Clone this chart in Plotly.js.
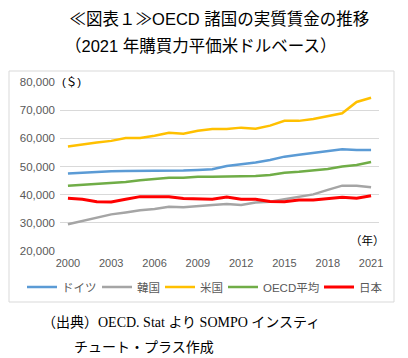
<!DOCTYPE html>
<html>
<head>
<meta charset="utf-8">
<script src="https://cdn.plot.ly/plotly-3.0.1.min.js"></script>
<style>html,body{margin:0;padding:0;background:#fff;}#chart{width:408px;height:358px;}</style>
</head>
<body>
<div id="chart"></div>
<script>
const years = [2000,2001,2002,2003,2004,2005,2006,2007,2008,2009,2010,2011,2012,2013,2014,2015,2016,2017,2018,2019,2020,2021];
const xTickLabels = ['2000','2003','2006','2009','2012','2015','2018','2021'];
const seriesNames = ['ドイツ','韓国','米国','OECD平均','日本'];
const germany = [47500,47800,48100,48300,48400,48400,48400,48500,48600,48800,49000,50200,50800,51400,52300,53500,54200,54800,55300,56100,55900,55900];
const korea   = [29500,30700,31800,33000,33700,34500,34900,35700,35500,36000,36300,36700,36300,37200,37500,38400,39300,40100,41700,43200,43200,42600];
const usa     = [57100,57900,58500,59100,60100,60100,60900,62000,61600,62700,63300,63300,63800,63400,64500,66200,66200,66900,67900,68900,72900,74400];
const oecd    = [43200,43500,43800,44100,44500,45100,45500,46000,46000,46400,46400,46400,46400,46600,47000,47800,48100,48700,49100,50000,50500,51600];
const japan   = [38700,38400,37500,37400,38400,39300,39300,39300,38600,38400,38400,39200,38400,38400,37600,37500,38100,38100,38700,39100,38700,39600];
const seriesValues = [germany, korea, usa, oecd, japan];
const seriesColors = ['#5B9BD5','#A5A5A5','#FFC000','#70AD47','#FF0000'];
const seriesWidths = [2.5,2.5,2.5,2.5,3];
const legendWidths = [30,18,18,51,23];

const traces = seriesNames.map((name,i)=>({
  type:'scatter', mode:'lines', name:name, x:years, y:seriesValues[i],
  line:{color:seriesColors[i], width:seriesWidths[i]}, legendwidth:legendWidths[i]
}));

const sans = 'Liberation Sans, Arial, "Noto Sans CJK JP", sans-serif';
const serif = 'Liberation Serif, "DejaVu Serif", "Noto Sans CJK JP", serif';

const layout = {
  width:408, height:358,
  margin:{l:60, r:29, t:82, b:107},
  paper_bgcolor:'#ffffff', plot_bgcolor:'#ffffff',
  showlegend:true,
  title:{text:'≪図表１≫OECD 諸国の実質賃金の推移', font:{family:sans, size:16.5, color:'#000', weight:'normal'},
         x:0.5, xanchor:'center', xref:'paper', y:1-19/358, yanchor:'middle', yref:'container'},
  xaxis:{range:[1999.45, 2021.55], tickmode:'array', tickvals:xTickLabels.map(Number), ticktext:xTickLabels,
         showgrid:false, zeroline:false, showline:false, ticks:'', ticklabelstandoff:4,
         tickfont:{family:sans, size:11, color:'#595959'}, fixedrange:true},
  yaxis:{range:[20000, 80000], dtick:10000, tickformat:',d', showgrid:true, gridcolor:'#d9d9d9', gridwidth:1,
         zeroline:false, showline:false, ticks:'', ticklabelstandoff:4,
         tickfont:{family:sans, size:11.5, color:'#595959'}, fixedrange:true},
  legend:{orientation:'h', x:(22-60)/319, xanchor:'left', y:(251-287)/169, yanchor:'middle',
          font:{family:sans, size:11.5, color:'#595959'}, itemwidth:30, bgcolor:'rgba(0,0,0,0)'},
  shapes:[{type:'rect', xref:'paper', yref:'paper', x0:(9-60)/319, x1:(394-60)/319, y0:(251-302)/169, y1:(251-71)/169,
           line:{color:'#d9d9d9', width:1}, fillcolor:'rgba(0,0,0,0)', layer:'below'}],
  annotations:[
    {text:'（2021 年購買力平価米ドルベース）', xref:'paper', yref:'paper', x:(200-60)/319, y:(251-46)/169,
     xanchor:'center', yanchor:'middle', showarrow:false, font:{family:sans, size:16.5, color:'#000'}},
    {text:'(＄)', xref:'paper', yref:'paper', x:0, y:1, xanchor:'left', yanchor:'middle', showarrow:false,
     bgcolor:'#ffffff', font:{family:sans, size:11.5, color:'#000'}},
    {text:'（年）', xref:'paper', yref:'paper', x:(367-60)/319, y:(251-240)/169, xanchor:'center', yanchor:'middle', showarrow:false,
     font:{family:sans, size:11.5, color:'#000'}},
    {text:'（出典）OECD. Stat より SOMPO インスティ', xref:'paper', yref:'paper', x:(40-60)/319, y:(251-322)/169,
     xanchor:'left', yanchor:'middle', showarrow:false, font:{family:serif, size:14, color:'#000'}},
    {text:'チュート・プラス作成', xref:'paper', yref:'paper', x:(72-60)/319, y:(251-347)/169,
     xanchor:'left', yanchor:'middle', showarrow:false, font:{family:serif, size:14, color:'#000'}}
  ]
};

Plotly.newPlot('chart', traces, layout, {staticPlot:true, displayModeBar:false});
</script>
</body>
</html>
